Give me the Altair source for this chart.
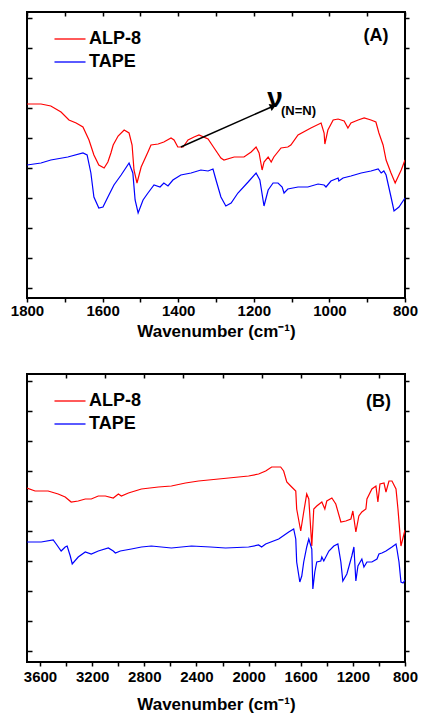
import altair as alt
import pandas as pd

SERIES = ["ALP-8", "TAPE"]
COLORS = ["#ff0000", "#0000ff"]
FONT = "Liberation Sans"

# ---------- Panel (A): 1800-800 cm-1 ----------
A_ALP8_WN = [1800, 1763, 1737, 1710, 1689, 1670, 1652, 1636, 1623, 1610, 1596, 1586, 1578, 1572, 1559,
             1543, 1530, 1522, 1517, 1509, 1498, 1480, 1472, 1453, 1438, 1419, 1411, 1401, 1387, 1374,
             1358, 1345, 1321, 1305, 1287, 1279, 1252, 1226, 1207, 1194, 1186, 1178, 1173, 1162, 1154,
             1147, 1128, 1110, 1102, 1083, 1049, 1022, 1014, 1012, 1004, 990, 977, 961, 951, 943,
             924, 908, 890, 877, 869, 858, 850, 837, 826, 810, 800]
A_ALP8_T = [194, 194, 192, 186, 178, 175, 171, 158, 143, 133, 130, 136, 145, 153, 162,
            168, 165, 153, 128, 115, 131, 146, 153, 154, 156, 160, 158, 151, 151, 158,
            161, 163, 159, 150, 140, 138, 141, 141, 146, 151, 145, 128, 136, 141, 136,
            141, 150, 151, 153, 163, 170, 175, 165, 154, 168, 178, 179, 177, 170, 175,
            178, 180, 178, 176, 165, 153, 138, 125, 115, 128, 138]

A_TAPE_WN = [1800, 1763, 1737, 1692, 1652, 1641, 1631, 1623, 1610, 1599, 1586, 1570, 1551, 1530, 1520,
             1514, 1506, 1493, 1480, 1464, 1448, 1438, 1427, 1414, 1393, 1366, 1340, 1321, 1308, 1300,
             1287, 1274, 1260, 1242, 1215, 1194, 1184, 1173, 1162, 1149, 1136, 1125, 1120, 1110, 1083,
             1057, 1030, 1014, 1009, 996, 977, 975, 964, 943, 916, 890, 871, 863, 856, 850,
             837, 829, 816, 800]
A_TAPE_T = [133, 135, 138, 141, 145, 143, 125, 101, 90, 91, 101, 113, 123, 135, 125,
            98, 85, 98, 105, 113, 111, 115, 112, 118, 123, 125, 128, 127, 129, 118,
            101, 92, 95, 105, 116, 125, 118, 92, 108, 115, 115, 111, 105, 109, 111,
            111, 114, 113, 111, 117, 120, 117, 120, 122, 125, 127, 129, 125, 127, 123,
            101, 87, 91, 100]

# ---------- Panel (B): 3700-800 cm-1 ----------
B_ALP8_WN = [3700, 3638, 3538, 3461, 3407, 3361, 3307, 3253, 3207, 3153, 3099, 3038, 2999, 2976, 2922,
             2822, 2692, 2592, 2484, 2384, 2153, 2000, 1923, 1869, 1823, 1754, 1731, 1707, 1677, 1638,
             1631, 1600, 1577, 1554, 1538, 1515, 1500, 1477, 1438, 1415, 1400, 1361, 1331, 1292, 1254,
             1215, 1200, 1177, 1154, 1131, 1100, 1092, 1054, 1023, 1008, 992, 961, 946, 923, 900,
             869, 854, 831, 800]
B_ALP8_T = [174, 171, 171, 168, 165, 160, 161, 163, 163, 166, 166, 164, 168, 166, 169,
            173, 175, 176, 179, 181, 184, 186, 188, 191, 195, 195, 191, 180, 176, 171,
            153, 131, 150, 168, 163, 116, 153, 156, 160, 153, 161, 164, 158, 140, 141,
            143, 151, 130, 146, 150, 153, 163, 173, 176, 160, 178, 179, 170, 181, 181,
            173, 153, 116, 132]

B_TAPE_WN = [3700, 3591, 3499, 3476, 3438, 3407, 3392, 3368, 3353, 3307, 3253, 3207, 3153, 3076, 3038,
             3022, 2984, 2899, 2822, 2746, 2592, 2438, 2292, 2177, 2000, 1923, 1900, 1869, 1769, 1692,
             1654, 1638, 1631, 1607, 1592, 1577, 1554, 1538, 1515, 1507, 1492, 1477, 1446, 1438, 1423,
             1384, 1346, 1315, 1292, 1277, 1246, 1208, 1192, 1177, 1161, 1131, 1115, 1092, 1054, 1015,
             1000, 977, 946, 900, 869, 862, 846, 831, 815, 800]
B_TAPE_T = [120, 120, 122, 118, 111, 115, 116, 106, 98, 105, 110, 108, 111, 114, 111,
            109, 111, 113, 115, 116, 114, 116, 115, 114, 115, 117, 115, 118, 123, 130,
            133, 123, 100, 80, 86, 100, 115, 123, 113, 73, 90, 100, 101, 105, 101,
            111, 116, 118, 100, 81, 88, 106, 115, 81, 96, 103, 95, 100, 100, 103,
            108, 109, 111, 115, 118, 113, 100, 80, 79, 82]

# axis tick values
A_X_TICKS = list(range(800, 1801, 100))
A_TOP_TICKS = list(range(800, 1801, 100))
A_Y_TICKS = [10, 40, 70, 100, 130, 160, 190, 220, 250, 280]
B_X_TICKS = list(range(800, 3701, 200))
B_TOP_TICKS = [3400, 3100, 2800, 2500, 2200, 1900, 1600, 1300, 1000]
B_Y_TICKS = [11, 41, 71, 101, 131, 161, 191, 221, 251, 281]

# annotations (data coordinates)
A_TAG = {"wn": [877], "T": [257], "text": ["(A)"]}
B_TAG = {"wn": [1004], "T": [255], "text": ["(B)"]}
ARROW_WN = [1393, 1149]
ARROW_T = [151, 191.8]
HEAD = {"wn": [1149], "T": [191.8]}
NU = {"wn": [1144], "T": [191], "text": ["ν"]}
NU_SUB = {"wn": [1128], "T": [183], "text": ["(N=N)"]}


def lines_df(wn1, t1, wn2, t2):
    return pd.DataFrame({
        "wn": wn1 + wn2,
        "T": t1 + t2,
        "sample": [SERIES[0]] * len(wn1) + [SERIES[1]] * len(wn2),
    })


def panel(df, xdom, ydom, xticks, label_step, top_ticks, yticks, tag, height,
          label_pad, title_pad, extras_fn=None):
    xs = alt.Scale(domain=xdom, reverse=True, nice=False, zero=False)
    ys = alt.Scale(domain=ydom, nice=False, zero=False)
    tick_common = dict(domain=False, grid=False, tickColor="black", tickWidth=1.5,
                       minExtent=0, maxExtent=200)
    bottom = alt.Axis(orient="bottom", values=xticks, format="d",
                      labelExpr=f"datum.value % {label_step} == 0 ? datum.label : ''",
                      tickSize=4, labelFont=FONT, labelFontSize=15, labelFontWeight="bold",
                      labelColor="black", labelPadding=label_pad, labelFlush=False,
                      labelOverlap=False,
                      title="Wavenumber (cm⁻¹)", titleFont=FONT, titleFontSize=17,
                      titleFontWeight="bold", titleColor="black", titlePadding=title_pad,
                      **tick_common)
    left = alt.Axis(orient="left", values=yticks, labels=False, title=None, tickSize=5,
                    offset=-5, **tick_common)
    top = alt.Axis(orient="top", values=top_ticks, labels=False, title=None, tickSize=4,
                   offset=-4, **tick_common)
    right = alt.Axis(orient="right", values=yticks, labels=False, title=None, tickSize=4,
                     **tick_common)

    legend = alt.Legend(title=None, orient="none", legendX=34, legendY=18,
                        symbolType="M-3,0L3,0", symbolSize=107, symbolStrokeWidth=1.3,
                        labelFont=FONT, labelFontSize=18, labelFontWeight="bold",
                        labelColor="black", labelOffset=10, rowPadding=5, padding=0)
    lines = alt.Chart(df).mark_line(strokeWidth=1.2, clip=True).encode(
        x=alt.X("wn:Q", scale=xs, axis=bottom),
        y=alt.Y("T:Q", scale=ys, axis=left),
        color=alt.Color("sample:N", scale=alt.Scale(domain=SERIES, range=COLORS), legend=legend),
    )
    tag_layer = alt.Chart(pd.DataFrame(tag)).mark_text(
        font=FONT, fontSize=18, fontWeight="bold", align="center", baseline="alphabetic", color="black"
    ).encode(
        x=alt.X("wn:Q", scale=xs, axis=top),
        y=alt.Y("T:Q", scale=ys, axis=right),
        text="text:N",
    )
    layers = [lines, tag_layer]
    if extras_fn is not None:
        layers += extras_fn(xs, ys)
    return alt.layer(*layers).resolve_axis(x="independent", y="independent").properties(
        width=378, height=height)


def a_extras(xs, ys):
    X = lambda: alt.X("wn:Q", scale=xs, axis=None)
    Y = lambda: alt.Y("T:Q", scale=ys, axis=None)
    arrow = alt.Chart(pd.DataFrame({"wn": ARROW_WN, "T": ARROW_T})).mark_line(
        color="black", strokeWidth=1.5).encode(x=X(), y=Y())
    head = alt.Chart(pd.DataFrame(HEAD)).mark_point(
        shape="triangle-right", filled=True, color="black", size=55, angle=336, opacity=1
    ).encode(x=X(), y=Y())
    nu = alt.Chart(pd.DataFrame(NU)).mark_text(
        font=FONT, fontSize=28, fontWeight="bold", align="center", baseline="alphabetic", color="black"
    ).encode(x=X(), y=Y(), text="text:N")
    sub = alt.Chart(pd.DataFrame(NU_SUB)).mark_text(
        font=FONT, fontSize=13, fontWeight="bold", align="left", baseline="alphabetic", color="black"
    ).encode(x=X(), y=Y(), text="text:N")
    return [arrow, head, nu, sub]


panel_a = panel(lines_df(A_ALP8_WN, A_ALP8_T, A_TAPE_WN, A_TAPE_T), [800, 1800], [0, 286],
                A_X_TICKS, 200, A_TOP_TICKS, A_Y_TICKS, A_TAG, 286, 1, 5, a_extras)
panel_b = panel(lines_df(B_ALP8_WN, B_ALP8_T, B_TAPE_WN, B_TAPE_T), [800, 3700], [0, 288],
                B_X_TICKS, 400, B_TOP_TICKS, B_Y_TICKS, B_TAG, 288, 3, 12)

chart = alt.vconcat(panel_a, panel_b, spacing=32).resolve_scale(
    x="independent", y="independent", color="independent"
).properties(
    padding={"left": 9, "top": 10, "right": 2, "bottom": 1},
    background="white",
).configure_view(stroke="black", strokeWidth=2)

chart.save("out.html", embed_options={"renderer": "svg", "actions": False})
